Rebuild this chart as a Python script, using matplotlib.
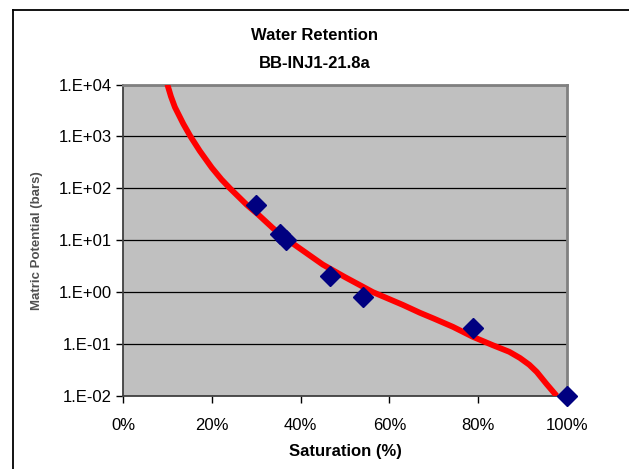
import math
import matplotlib
matplotlib.use("Agg")
from matplotlib import pyplot as plt
from matplotlib.lines import Line2D
from matplotlib.ticker import FixedLocator, FuncFormatter

plt.rcParams['font.family'] = ['Liberation Sans', 'DejaVu Sans']

# measured points (saturation fraction, matric potential in bars)
sat_measured = [0.30, 0.354, 0.367, 0.466, 0.541, 0.788, 1.0]
pot_measured = [47, 13, 10, 2.04, 0.79, 0.205, 0.01]

# fitted curve
sat_fit = [0.100, 0.108, 0.117, 0.136, 0.152, 0.173, 0.200, 0.222, 0.241, 0.279,
           0.305, 0.338, 0.372, 0.45, 0.50, 0.563, 0.63, 0.669, 0.70, 0.743,
           0.788, 0.833, 0.870, 0.894, 0.915, 0.932, 0.954, 0.977]
pot_fit = [1e4, 5900, 3656, 1738, 1000, 525, 250, 148, 100, 48,
           31, 17, 10, 3.4, 1.95, 1.0, 0.57, 0.40, 0.31, 0.215,
           0.138, 0.095, 0.071, 0.054, 0.040, 0.029, 0.017, 0.01]

x_ticks = [0, 0.2, 0.4, 0.6, 0.8, 1.0]
y_ticks = [1e-2, 1e-1, 1e0, 1e1, 1e2, 1e3, 1e4]


def excel_sci(v, pos):
    return '1.E%+03d' % round(math.log10(v))


fig = plt.figure(figsize=(6.29, 4.69), dpi=100)
ax = fig.add_axes([0.1955, 0.1557, 0.7059, 0.6641])
ax.set_facecolor('#C0C0C0')

ax.plot(sat_fit, pot_fit, color='#FF0000', linewidth=4.2, solid_capstyle='butt',
        solid_joinstyle='round', zorder=3)
ax.plot(sat_measured, pot_measured, linestyle='none', marker='D', markersize=10,
        color='#000080', zorder=4, clip_on=False)

ax.set_yscale('log')
ax.set_xlim(0, 1.0)
ax.set_ylim(1e-2, 1e4)
ax.yaxis.set_major_locator(FixedLocator(y_ticks))
ax.yaxis.set_minor_locator(FixedLocator([]))
ax.yaxis.set_major_formatter(FuncFormatter(excel_sci))
ax.set_xticks(x_ticks)
ax.set_xticklabels(['%d%%' % round(v * 100) for v in x_ticks])

ax.grid(axis='y', color='black', linewidth=0.9)
ax.set_axisbelow(True)
ax.tick_params(axis='both', direction='out', length=5, width=1, labelsize=12, colors='black')
ax.tick_params(axis='x', pad=11)
ax.tick_params(axis='y', pad=3)

for side in ['top', 'right']:
    ax.spines[side].set_color('#808080')
    ax.spines[side].set_linewidth(2)
ax.spines['left'].set_color('#404040')
ax.spines['bottom'].set_color('#404040')
ax.spines['left'].set_linewidth(1.3)
ax.spines['bottom'].set_linewidth(1.3)

ax.set_xlabel('Saturation (%)', fontsize=12, fontweight='bold', labelpad=8)
ax.set_ylabel('Matric Potential (bars)', fontsize=9.5, fontweight='bold', color='#505050')
ax.yaxis.set_label_coords(-0.181, 0.5)

fig.text(0.5, 1 - 36 / 469, 'Water Retention', ha='center', va='center',
         fontsize=12, fontweight='bold')
fig.text(0.5, 1 - 63 / 469, 'BB-INJ1-21.8a', ha='center', va='center',
         fontsize=12, fontweight='bold')

# outer chart frame (runs off the right and bottom edges)
fig.add_artist(Line2D([13 / 629, 13 / 629], [0, 1 - 10 / 469], color='black', linewidth=1.3))
fig.add_artist(Line2D([13 / 629, 1], [1 - 10 / 469, 1 - 10 / 469], color='black', linewidth=1.3))

fig.savefig('out.png', dpi=100)
